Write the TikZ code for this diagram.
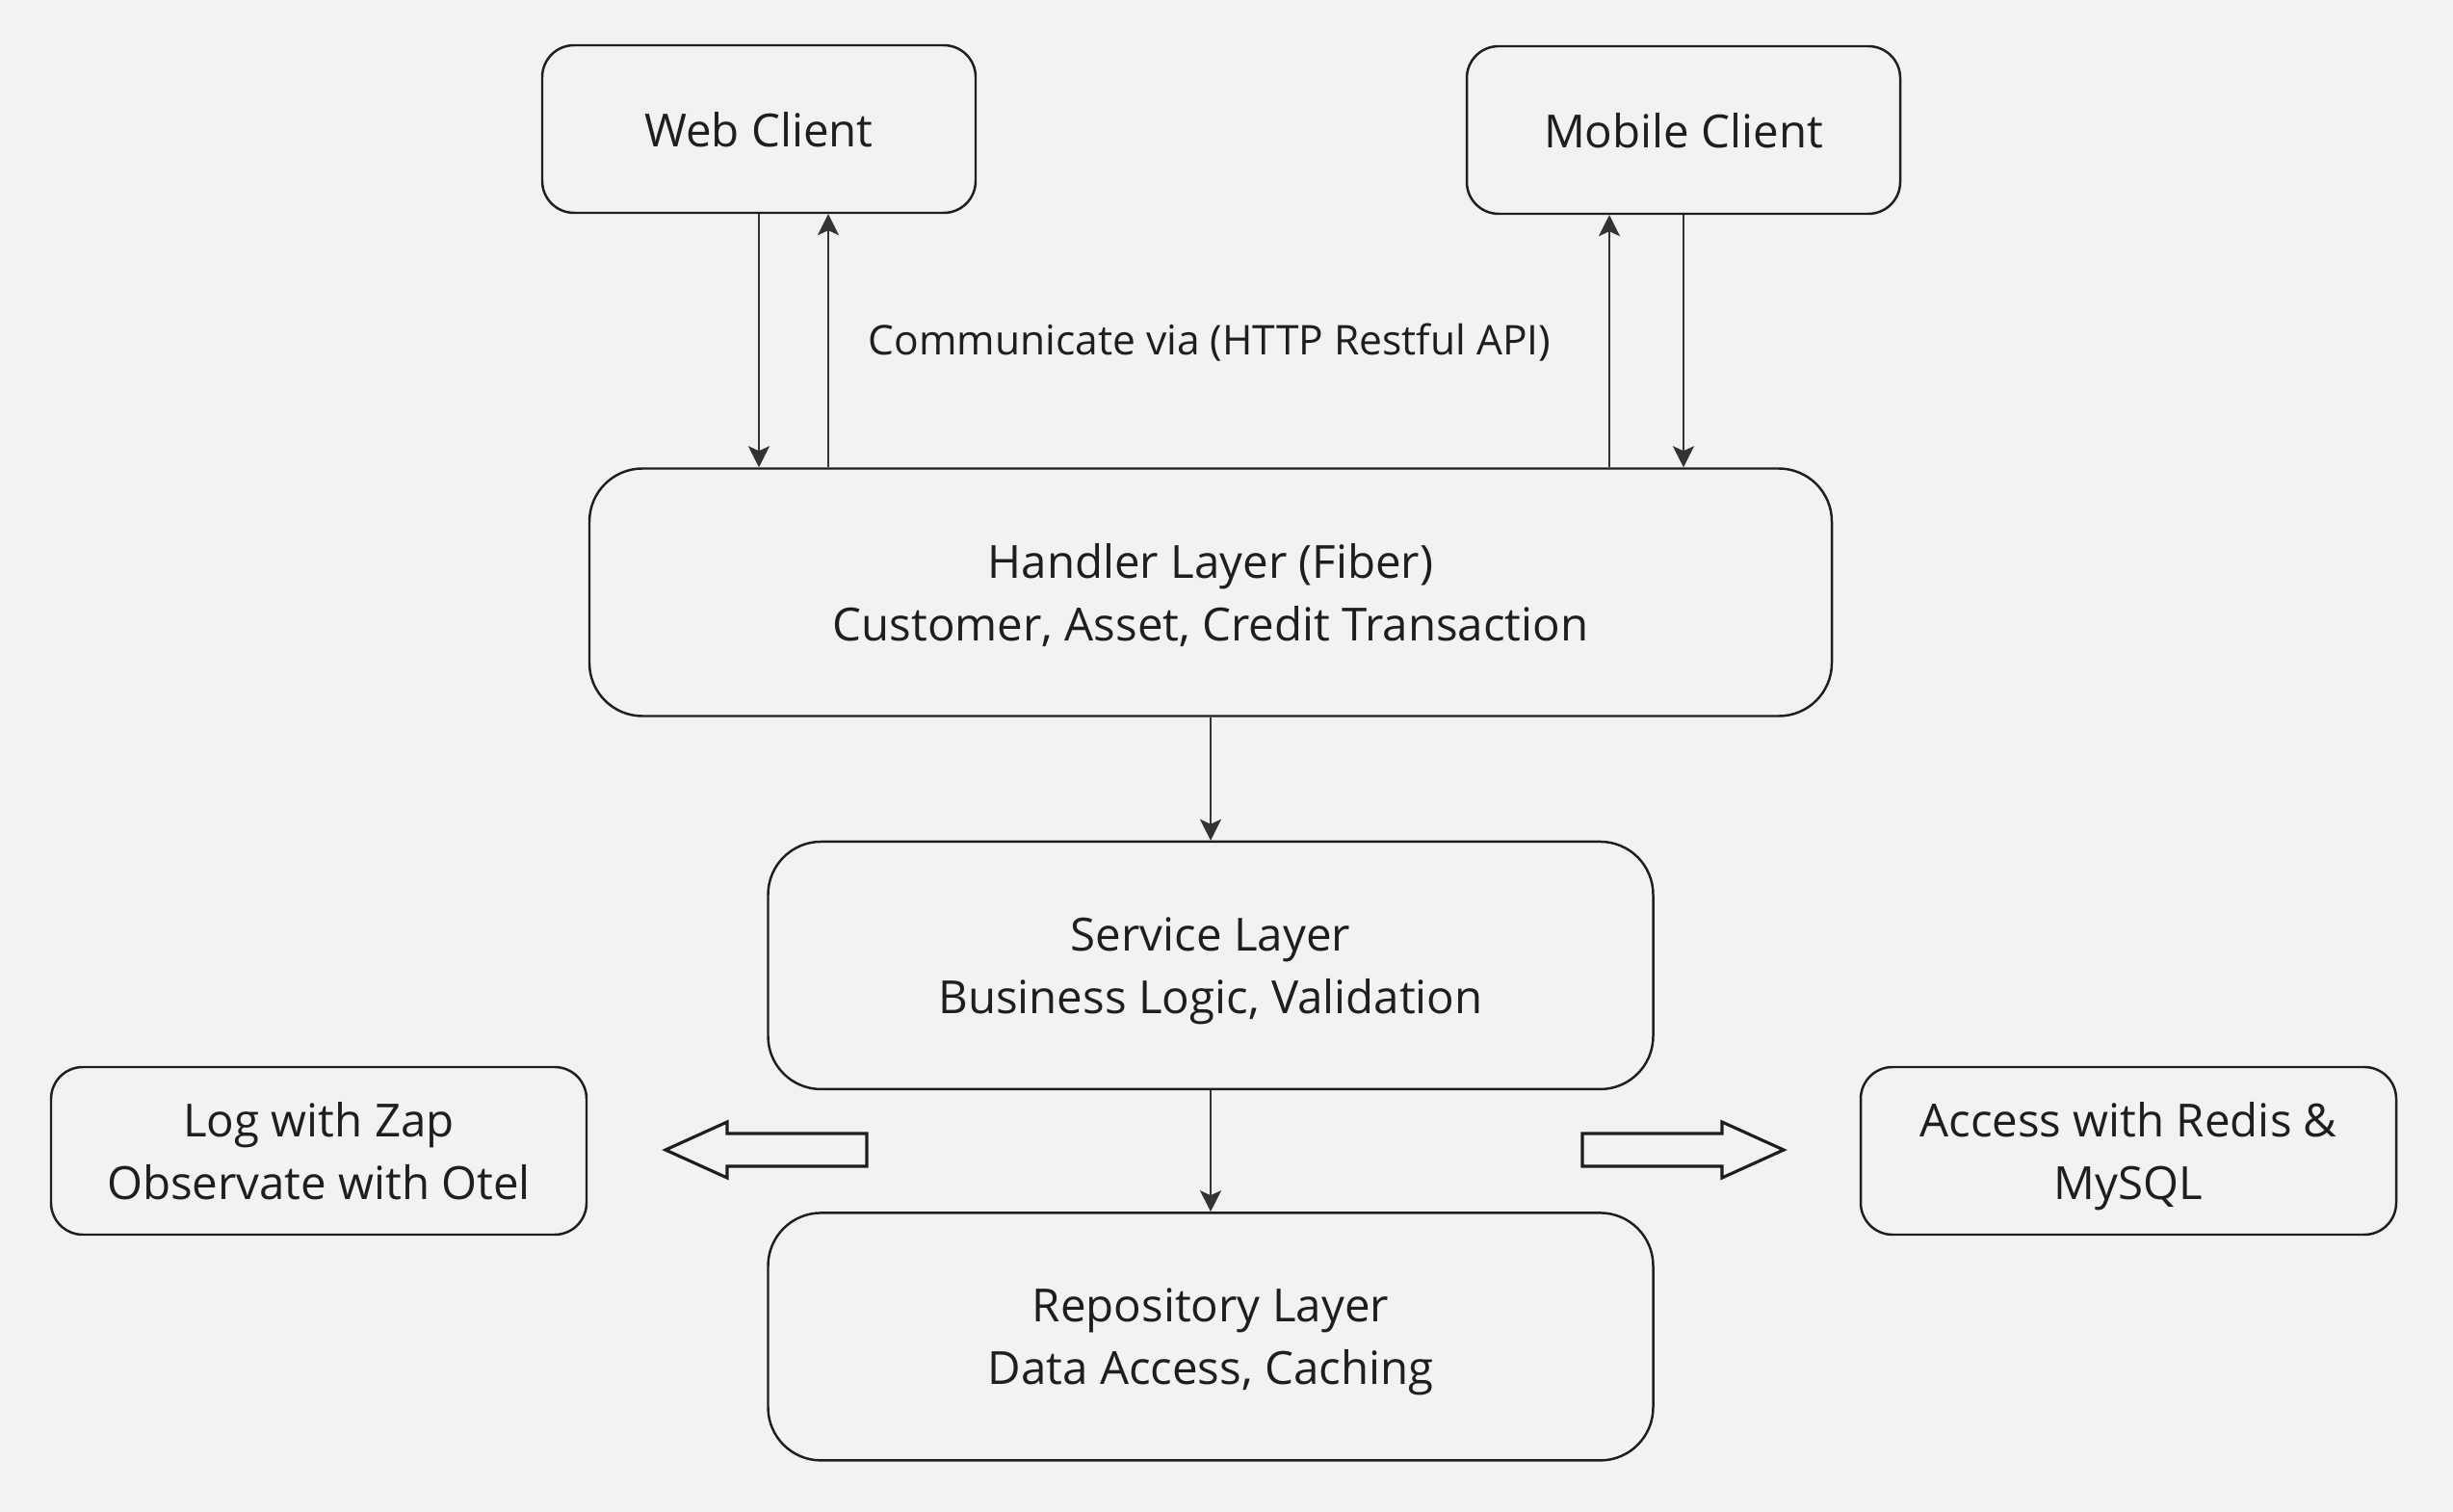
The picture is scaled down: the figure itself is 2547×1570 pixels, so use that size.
\documentclass[tikz,border=0pt]{standalone}
\usepackage{fontspec}
\setmainfont{Open Sans}
\usetikzlibrary{arrows.meta,positioning}
\definecolor{bg}{HTML}{F2F2F2}
\definecolor{ink}{HTML}{1E1E1E}
\definecolor{wire}{HTML}{333333}

\begin{document}
\begin{tikzpicture}[
  x=0.1mm, y=-0.1mm,
  font=\fontsize{13.5}{18.5}\selectfont,
  box/.style={draw=ink, line width=0.7pt, rounded corners=3.3mm, align=center, inner sep=0pt, text=ink, text depth=0pt},
  layer/.style={box, rounded corners=5.5mm, minimum width=91.9mm, minimum height=25.7mm},
  client/.style={box, minimum width=45mm, minimum height=17.4mm},
  side/.style={box, minimum width=55.6mm, minimum height=17.4mm},
  arr/.style={-{Stealth[length=2.2mm, width=2.2mm, inset=0.5mm]}, line width=0.7pt, draw=wire},
  fat/.style={draw=ink, line width=0.9pt, fill=bg, line join=miter}
]
\fill[bg] (0,0) rectangle (2547,1570);
\useasboundingbox (0,0) rectangle (2547,1570);

\node[client] (web) at (788,134) {Web Client};
\node[client] (mobile) at (1748,135) {Mobile Client};
\node[text=ink, font=\fontsize{12.1}{15}\selectfont] (api) at (1256,356) {Communicate via (HTTP Restful API)};

\node[layer, minimum width=129mm] (handler) at (1257,615) {Handler Layer (Fiber)\\Customer, Asset, Credit Transaction};
\node[layer, below=12.8mm of handler] (service) {Service Layer\\Business Logic, Validation};
\node[layer, below=12.6mm of service] (repo) {Repository Layer\\Data Access, Caching};

\node[side] (log) at (331,1195) {Log with Zap\\Observate with Otel};
\node[side] (access) at (2210,1195) {Access with Redis \&\\MySQL};

% client <-> handler
\coordinate (webup) at ([xshift=7.2mm]web.south);
\coordinate (mobup) at ([xshift=-7.7mm]mobile.south);
\draw[arr] (web.south) -- (web.south |- handler.north);
\draw[arr] (webup |- handler.north) -- (webup);
\draw[arr] (mobup |- handler.north) -- (mobup);
\draw[arr] (mobile.south) -- (mobile.south |- handler.north);

\draw[arr] (handler) -- (service);
\draw[arr] (service) -- (repo);

% block arrows
\draw[fat] (900,1177) -- (755,1177) -- (755,1165) -- (691,1194) -- (755,1223) -- (755,1211) -- (900,1211) -- cycle;
\draw[fat] (1643,1177) -- (1788,1177) -- (1788,1165) -- (1852,1194) -- (1788,1223) -- (1788,1211) -- (1643,1211) -- cycle;
\end{tikzpicture}
\end{document}
